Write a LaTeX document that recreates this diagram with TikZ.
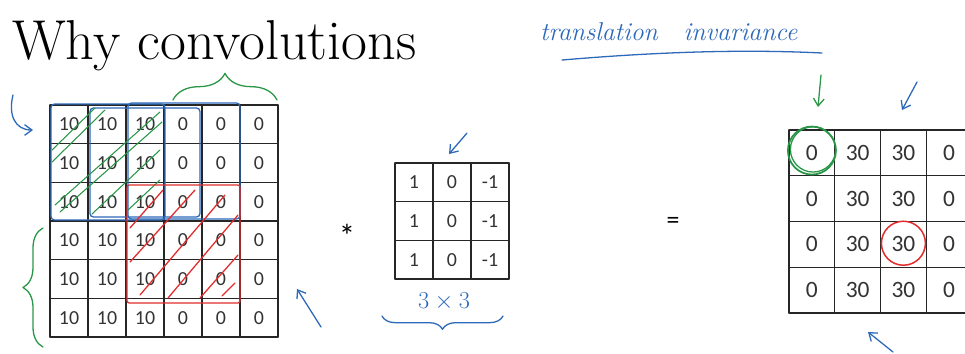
\documentclass[tikz,border=0pt]{standalone}
\usepackage{fontspec}
\newfontfamily\cellfont{Carlito}
\usetikzlibrary{arrows.meta,decorations.pathreplacing}

\definecolor{penblue}{RGB}{45,105,185}
\definecolor{pengreen}{RGB}{40,150,70}
\definecolor{penred}{RGB}{225,45,45}

\begin{document}
\begin{tikzpicture}[
    x=0.03cm, y=-0.03cm,
    line cap=round,
    line join=round,
    gridline/.style={draw=black!85, line width=1pt},
    cell/.style={font=\cellfont\fontsize{17}{20}\selectfont, text=black!80, inner sep=0pt},
    outcell/.style={font=\cellfont\fontsize{20}{24}\selectfont, text=black!80, inner sep=0pt},
    pen/.style={line width=1.1pt},
    bluepen/.style={pen, draw=penblue},
    greenpen/.style={pen, draw=pengreen},
    redpen/.style={pen, draw=penred},
    barb/.style={-{Straight Barb[length=2.2mm,width=3.2mm]}},
    curly/.style={decorate, decoration={brace, amplitude=#1}}
]
\useasboundingbox (0,0) rectangle (965,353);
\clip (0,0) rectangle (965,353);

% title and note
\node[anchor=base west, inner sep=0pt, font=\fontsize{48}{54}\selectfont] (title) at (12,59) {Why convolutions};
\node[anchor=base west, inner sep=0pt, font=\itshape\fontsize{22}{26}\selectfont, text=penblue] (invar) at (540,40) {translation\quad invariance};
\draw[bluepen] (562,60) .. controls (680,50) and (760,50) .. (822,53);

% input image 6x6
\foreach \i in {0,...,6} {
  \draw[gridline] ({50+38*\i},105) -- ({50+38*\i},337);
  \draw[gridline] (50,{105+38.67*\i}) -- (278,{105+38.67*\i});
}
\foreach \r in {0,...,5} {
  \foreach \c/\v in {0/10,1/10,2/10,3/0,4/0,5/0}
    \node[cell] (in-\r-\c) at ({69+38*\c},{124.3+38.67*\r}) {\v};
}

% filter 3x3
\foreach \i in {0,...,3} {
  \draw[gridline] ({395+38*\i},163) -- ({395+38*\i},279);
  \draw[gridline] (395,{163+38.67*\i}) -- (509,{163+38.67*\i});
}
\foreach \r in {0,...,2} {
  \foreach \c/\v in {0/1,1/0,2/-1}
    \node[cell] (fl-\r-\c) at ({414+38*\c},{182.3+38.67*\r}) {\v};
}

% output 4x4
\foreach \i in {0,...,4} {
  \draw[gridline] ({789+45.75*\i},130) -- ({789+45.75*\i},313);
  \draw[gridline] (789,{130+45.75*\i}) -- (972,{130+45.75*\i});
}
\foreach \r in {0,...,3} {
  \foreach \c/\v in {0/0,1/30,2/30,3/0}
    \node[outcell] (out-\r-\c) at ({811.9+45.75*\c},{152.9+45.75*\r}) {\v};
}

\node[font=\cellfont\fontsize{28}{32}\selectfont] (star) at (347,236) {*};
\node[font=\cellfont\fontsize{22}{26}\selectfont] (eq) at (673,223) {=};
\node[font=\fontsize{20}{24}\selectfont, text=penblue] (size) at (444,302) {$3\times3$};

% sliding windows
\draw[bluepen, rounded corners=3] (51,104) rectangle (165,220);
\draw[bluepen, rounded corners=3] (90,108) rectangle (200,217);
\draw[bluepen, rounded corners=3] (128,103) rectangle (240,219);

% green hatching
\draw[greenpen, line width=0.9pt] (52,150) -- (95,108);
\draw[greenpen, line width=0.9pt] (52,162) -- (105,110);
\draw[greenpen, line width=0.9pt] (55,205) -- (160,112);
\draw[greenpen, line width=0.9pt] (60,212) -- (162,122);
\draw[greenpen, line width=0.9pt] (92,214) -- (160,150);
\draw[greenpen, line width=0.9pt] (128,210) -- (160,180);

% red window and hatching
\draw[redpen, rounded corners=2] (127,185) rectangle (240,303);
\draw[redpen] (130,228) -- (163,190);
\draw[redpen] (130,262) -- (195,190);
\draw[redpen] (140,295) -- (225,195);
\draw[redpen] (168,298) -- (238,215);
\draw[redpen] (200,298) -- (238,255);
\draw[redpen] (222,296) -- (235,283);

% braces
\draw[greenpen, curly=0.8cm] (173,100) -- (277,100);
\draw[greenpen, curly=0.6cm] (43,347) -- (43,228);
\draw[bluepen, curly=0.4cm] (503,316) -- (382,316);

% circles
\draw[greenpen, line width=1.5pt] ([yshift=2pt]out-0-0.center) circle [radius=0.72cm];
\draw[greenpen] ([xshift=1pt,yshift=3pt]out-0-0.center) circle [radius=0.68cm];
\draw[redpen, line width=1.3pt] ([yshift=1pt]out-2-2.center) circle [radius=0.66cm];

% arrows
\coordinate (a1s) at (13,95);   \coordinate (a1e) at (33,130);
\coordinate (a2s) at (821,75);  \coordinate (a2e) at (818,107);
\coordinate (a3s) at (917,82);  \coordinate (a3e) at (902,110);
\coordinate (a4s) at (467,133); \coordinate (a4e) at (449,154);
\coordinate (a5s) at (321,327); \coordinate (a5e) at (297,289);
\coordinate (a6s) at (893,352); \coordinate (a6e) at (868,332);
\draw[bluepen, barb] (a1s) .. controls (8,115) and (15,130) .. (a1e);
\draw[greenpen, barb] (a2s) -- (a2e);
\draw[bluepen, barb] (a3s) -- (a3e);
\draw[bluepen, barb] (a4s) -- (a4e);
\draw[bluepen, barb] (a5s) -- (a5e);
\draw[bluepen, barb] (a6s) -- (a6e);
\end{tikzpicture}
\end{document}
